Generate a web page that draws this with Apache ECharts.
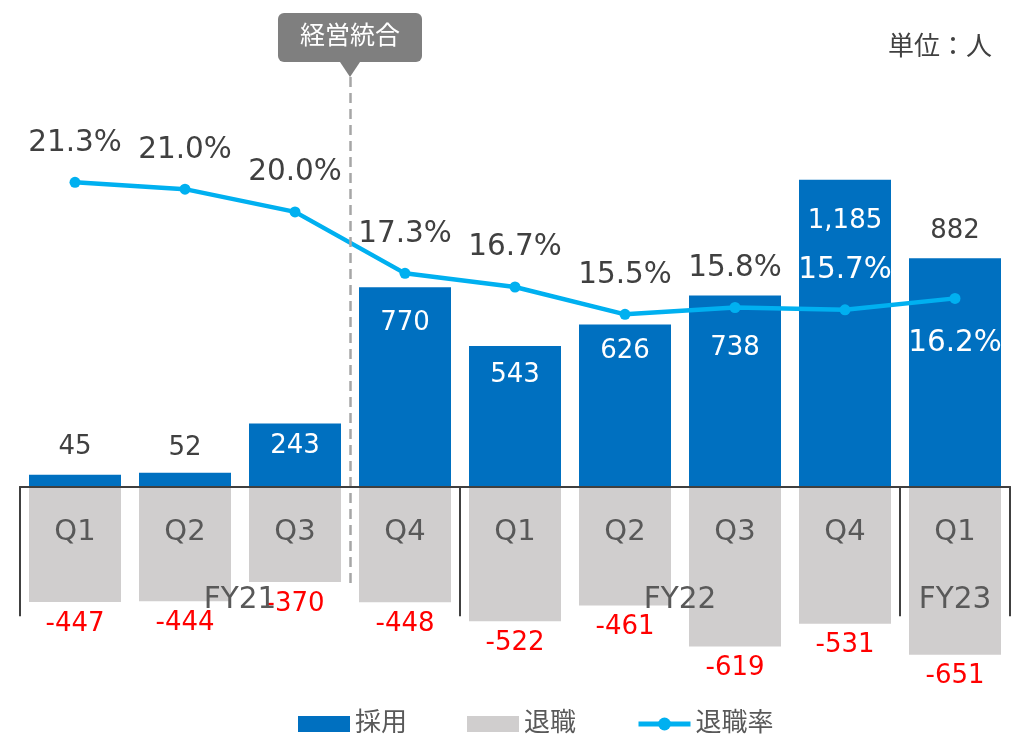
<!DOCTYPE html>
<html>
<head>
<meta charset="utf-8">
<script src="https://cdn.jsdelivr.net/npm/echarts@6/dist/echarts.min.js"></script>
<style>
html,body{margin:0;padding:0;background:#fff;}
#main{width:1035px;height:736px;}
</style>
</head>
<body>
<div id="main"></div>
<script>
// 四半期ラベル
var quarters = ['Q1', 'Q2', 'Q3', 'Q4', 'Q1', 'Q2', 'Q3', 'Q4', 'Q1'];
// 年度ラベルと、その年度が始まる四半期の位置 / 年度ラベルの中心
var fiscalYears = ['FY21', 'FY22', 'FY23'];
var fyStartIndex = [0, 4, 8];
var fyCenter = [1.5, 5.5, 8];
// 採用・退職（人）
var hires = [45, 52, 243, 770, 543, 626, 738, 1185, 882];
var leavers = [-447, -444, -370, -448, -522, -461, -619, -531, -651];
// 退職率(%)
var turnoverRate = [21.3, 21.0, 20.0, 17.3, 16.7, 15.5, 15.8, 15.7, 16.2];
// 経営統合（Q3とQ4の間）
var mergerAt = 2.5;

var myChart = echarts.init(document.getElementById('main'));

var font = "'DejaVu Sans', 'Noto Sans CJK JP', sans-serif";
var dark = '#404040';

// 軸の範囲とグリッド
var yMin = -800, yMax = 1850;
var gridTop = 7.9, gridBottom = 42.8;
var gridHeight = 736 - gridTop - gridBottom;
// x軸を0の位置まで上げる（v6ではonZeroでラベルが付いてこないので）
var zeroOffset = -gridHeight * (0 - yMin) / (yMax - yMin);

// 採用ラベルの置き方（棒の上 or 棒の中）
var hireLabelStyle = [
  {position: 'top', distance: 14, color: dark},
  {position: 'top', distance: 12, color: dark},
  {position: 'insideTop', distance: 10, color: '#fff'},
  {position: 'insideTop', distance: 23, color: '#fff'},
  {position: 'insideTop', distance: 16, color: '#fff'},
  {position: 'insideTop', distance: 14, color: '#fff'},
  {position: 'insideTop', distance: 40, color: '#fff'},
  {position: 'insideTop', distance: 28, color: '#fff'},
  {position: 'top', distance: 14, color: dark}
];
// 退職率ラベル
var rateLabelStyle = function (i) {
  if (i === 8) return {position: 'bottom', distance: 25, color: '#fff'};
  if (i === 7) return {position: 'top', distance: 19, color: '#fff'};
  return {position: 'top', distance: 19, color: dark};
};

var option = {
  animation: false,
  textStyle: {fontFamily: font},
  title: {
    text: '単位：人',
    right: 38,
    top: 30,
    textStyle: {fontFamily: font, fontSize: 26, fontWeight: 'normal', color: dark}
  },
  legend: {
    left: 293,
    top: 706,
    itemWidth: 52,
    itemHeight: 16,
    itemGap: 60,
    textStyle: {fontFamily: font, fontSize: 26, color: '#595959'},
    data: [
      {name: '採用', icon: 'rect'},
      {name: '退職', icon: 'rect'},
      {name: '退職率', lineStyle: {width: 5}}
    ]
  },
  grid: {left: 20, right: 25, top: gridTop, bottom: gridBottom, containLabel: false, outerBoundsMode: 'none'},
  xAxis: [{
    type: 'category',
    data: quarters,
    z: 5,
    offset: zeroOffset,
    axisLine: {onZero: false, lineStyle: {color: dark, width: 2}},
    axisTick: {
      show: true,
      length: 130,
      interval: function (idx) { return fyStartIndex.indexOf(idx) >= 0; },
      lineStyle: {color: dark, width: 2}
    },
    axisLabel: {fontSize: 29, color: '#595959', margin: 32, fontFamily: font}
  }, {
    // 年度ラベル用
    type: 'value',
    min: -0.5,
    max: 8.5,
    interval: 0.5,
    position: 'bottom',
    z: 5,
    offset: zeroOffset,
    axisLine: {show: false, onZero: false},
    axisTick: {show: false},
    splitLine: {show: false},
    axisLabel: {
      fontSize: 29.5, color: '#595959', margin: 99, fontFamily: font,
      showMinLabel: true, showMaxLabel: true,
      formatter: function (v) {
        for (var i = 0; i < fyCenter.length; i++) {
          if (Math.abs(fyCenter[i] - v) < 1e-6) return fiscalYears[i];
        }
        return '';
      }
    }
  }],
  yAxis: [
    {type: 'value', min: yMin, max: yMax, show: false},
    {type: 'value', min: -1.147, max: 28.963, show: false}
  ],
  series: [{
    name: '採用',
    type: 'bar',
    stack: 'hc',
    barWidth: 92,
    itemStyle: {color: '#0070C0'},
    label: {show: true, fontSize: 26, fontFamily: font,
      formatter: function (p) { return p.value.toLocaleString('en-US'); }},
    data: hires.map(function (v, i) {
      return {value: v, label: hireLabelStyle[i]};
    })
  }, {
    name: '退職',
    type: 'bar',
    stack: 'hc',
    barWidth: 92,
    itemStyle: {color: '#D0CECE'},
    label: {show: true, position: 'bottom', distance: 9, color: '#FF0000', fontSize: 26, fontFamily: font},
    data: leavers
  }, {
    name: '退職率',
    type: 'line',
    yAxisIndex: 1,
    symbol: 'circle',
    symbolSize: 11,
    lineStyle: {color: '#00B0F0', width: 4.5},
    itemStyle: {color: '#00B0F0'},
    label: {show: true, fontSize: 29.5, fontFamily: font,
      formatter: function (p) { return p.value.toFixed(1) + '%'; }},
    data: turnoverRate.map(function (v, i) {
      return {value: v, label: rateLabelStyle(i)};
    })
  }, {
    // 経営統合の注記
    name: 'merger',
    type: 'line',
    xAxisIndex: 1,
    yAxisIndex: 0,
    data: [],
    clip: false,
    silent: true,
    markLine: {
      silent: true,
      symbol: ['none', 'none'],
      lineStyle: {color: '#A6A6A6', type: [10, 6], width: 2.5},
      label: {
        show: true, position: 'start', formatter: '経営統合',
        color: '#fff', fontSize: 25, fontFamily: font,
        backgroundColor: '#7F7F7F', borderRadius: 6, padding: [12, 22], distance: 15
      },
      data: [[{coord: [mergerAt, 1583]}, {coord: [mergerAt, -393]}]]
    },
    markPoint: {
      silent: true,
      symbol: 'triangle',
      symbolRotate: 180,
      symbolSize: [20, 15],
      itemStyle: {color: '#7F7F7F'},
      label: {show: false},
      data: [{coord: [mergerAt, 1612]}]
    }
  }]
};

myChart.setOption(option);
</script>
</body>
</html>
